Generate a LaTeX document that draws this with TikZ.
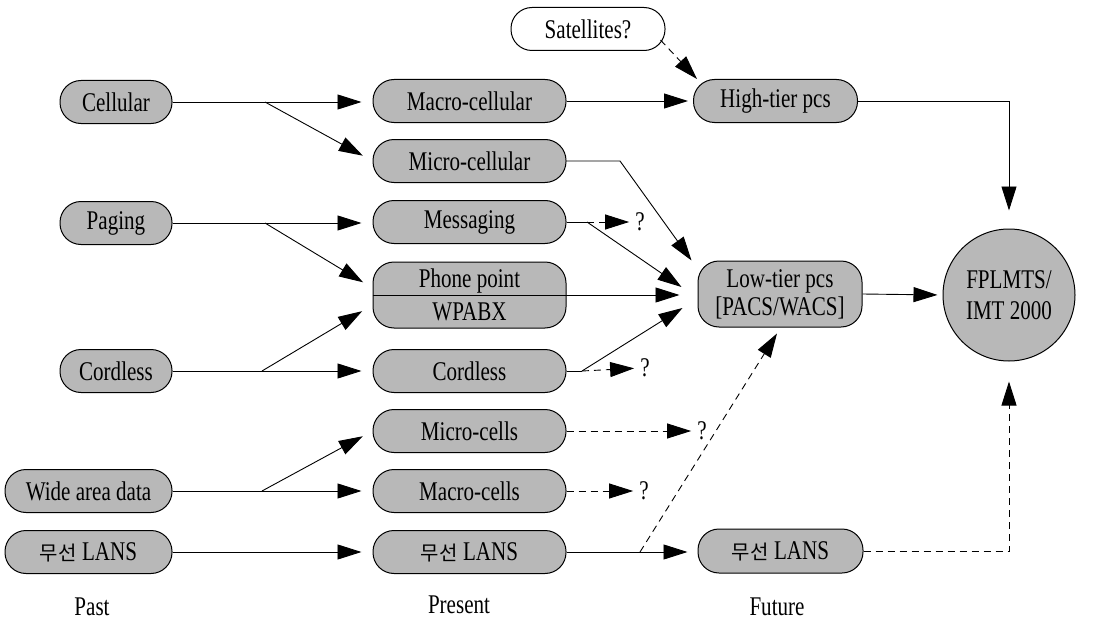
\documentclass[tikz,border=0pt]{standalone}
\usepackage{fontspec}
\setmainfont{Liberation Serif}[FakeStretch=0.78]
\newfontfamily\krfont{Noto Sans CJK KR}
\usetikzlibrary{arrows.meta}
\newcommand{\mslans}{{\krfont\fontsize{20}{22}\selectfont 무선}~LANS}
\begin{document}
\begin{tikzpicture}[x=1pt,y=-1pt,
  box/.style={draw, line width=1pt, rounded corners=21pt, fill=black!28, minimum height=43pt, inner sep=0pt, font=\fontsize{27}{28}\selectfont},
  pbox/.style={box, minimum width=193pt},
  qm/.style={inner sep=0pt, font=\fontsize{27}{28}\selectfont},
  lab/.style={inner sep=0pt, font=\fontsize{27}{28}\selectfont},
  ln/.style={line width=0.9pt},
  arr/.style={ln, -{Triangle[length=24pt,width=15pt]}},
  darr/.style={arr, dash pattern=on 7pt off 5pt}]
\useasboundingbox (0,0) rectangle (1104,626);
% Past
\node[box, minimum width=112pt] (cell) at (116,102) {Cellular};
\node[box, minimum width=112pt] (pag) at (116,223) {Paging};
\node[box, minimum width=112pt] (cord) at (116,371) {Cordless};
\node[box, minimum width=167pt] (wad) at (88.5,491) {Wide area data};
\node[box, minimum width=167pt] (lan1) at (88.5,552) {\mslans};
% Present
\node[pbox] (macro) at (469.5,101) {Macro-cellular};
\node[pbox] (micro) at (469.5,161) {Micro-cellular};
\node[pbox] (msg) at (469.5,222) {Messaging};
\node[pbox, minimum height=66pt, align=center] (pp) at (469.5,295) {Phone point\\[5pt]WPABX};
\draw[line width=1pt] (pp.west) -- (pp.east);
\node[pbox] (cord2) at (469.5,371) {Cordless};
\node[pbox] (mcells) at (469.5,431) {Micro-cells};
\node[pbox] (macells) at (469.5,491) {Macro-cells};
\node[pbox] (lan2) at (469.5,552) {\mslans};
% Future
\node[box, fill=white, minimum width=154pt] (sat) at (588,29) {Satellites?};
\node[box, minimum width=164pt, minimum height=43pt] (high) at (775.5,101) {High-tier pcs};
\node[box, minimum width=164pt, minimum height=66pt, align=center] (low) at (780,294) {Low-tier pcs\\{[}PACS/WACS{]}};
\node[box, minimum width=165pt, minimum height=44pt] (lan3) at (780.5,551) {\mslans};
\node[circle, draw, line width=1pt, fill=black!28, minimum size=132pt, inner sep=0pt, align=center, font=\fontsize{27}{31}\selectfont] (fp) at (1009,295) {FPLMTS/\\IMT 2000};
% question marks
\node[qm] (q1) at (640,222) {?};
\node[qm] (q2) at (645,368) {?};
\node[qm] (q3) at (702,431) {?};
\node[qm] (q4) at (644,491) {?};
% labels
\node[lab] (past) at (92,607) {Past};
\node[lab] (present) at (459,605) {Present};
\node[lab] (future) at (777,607) {Future};
% branch points
\coordinate (b1) at (265,102);
\coordinate (b2) at (265,223);
\coordinate (b3) at (262,371);
\coordinate (b4) at (262,491);
\coordinate (c1) at (620,161);
\coordinate (c2) at (587,222);
\coordinate (c3) at (582,371);
\coordinate (c4) at (640,552);
% past -> present
\draw[arr, shorten >=11pt] (cell.east) -- (cell.east -| macro.west);
\draw[arr, shorten >=11pt] (b1) -- (micro.west);
\draw[arr, shorten >=11pt] (pag.east) -- (pag.east -| msg.west);
\draw[arr, shorten >=11pt] (b2) -- ([yshift=7pt]pp.west);
\draw[arr, shorten >=11pt] (cord.east) -- (cord.east -| cord2.west);
\draw[arr, shorten >=12pt] (b3) -- ([yshift=-10pt]pp.west);
\draw[arr, shorten >=11pt] (wad.east) -- (wad.east -| macells.west);
\draw[arr, shorten >=11pt] (b4) -- (mcells.west);
\draw[arr, shorten >=11pt] (lan1.east) -- (lan1.east -| lan2.west);
% present -> future
\draw[arr, shorten >=5pt] (macro.east) -- (macro.east -| high.west);
\draw[darr] ([xshift=-5pt,yshift=-11pt]sat.east) -- ([xshift=4pt]high.north west);
\draw[arr] (micro.east) -- (c1) -- ([xshift=-6pt]low.north west);
\draw[ln] (msg.east) -- (c2);
\draw[darr, shorten >=6pt] (c2) -- (q1.west);
\draw[arr] (c2) -- ([xshift=-16pt,yshift=7pt]low.west);
\draw[arr, shorten >=18pt] (pp.east) -- (pp.east -| low.west);
\draw[ln] (cord2.east) -- (c3);
\draw[arr] (c3) -- ([xshift=-15pt,yshift=-14pt]low.west);
\draw[darr, shorten >=6pt] (c3) -- (q2.west);
\draw[darr, shorten >=6pt] (mcells.east) -- (q3.west);
\draw[darr, shorten >=6pt] (macells.east) -- (q4.west);
\draw[arr, shorten >=10pt] (lan2.east) -- (lan2.east -| lan3.west);
\draw[darr] (c4) -- ([xshift=-3pt,yshift=-6pt]low.south);
% future -> FPLMTS
\draw[arr, shorten >=18pt] (high.east) -| (fp.north);
\draw[arr, shorten >=5pt] (low.east) -- (fp.west);
\draw[darr, shorten >=20pt] (lan3.east) -| (fp.south);
\end{tikzpicture}
\end{document}
